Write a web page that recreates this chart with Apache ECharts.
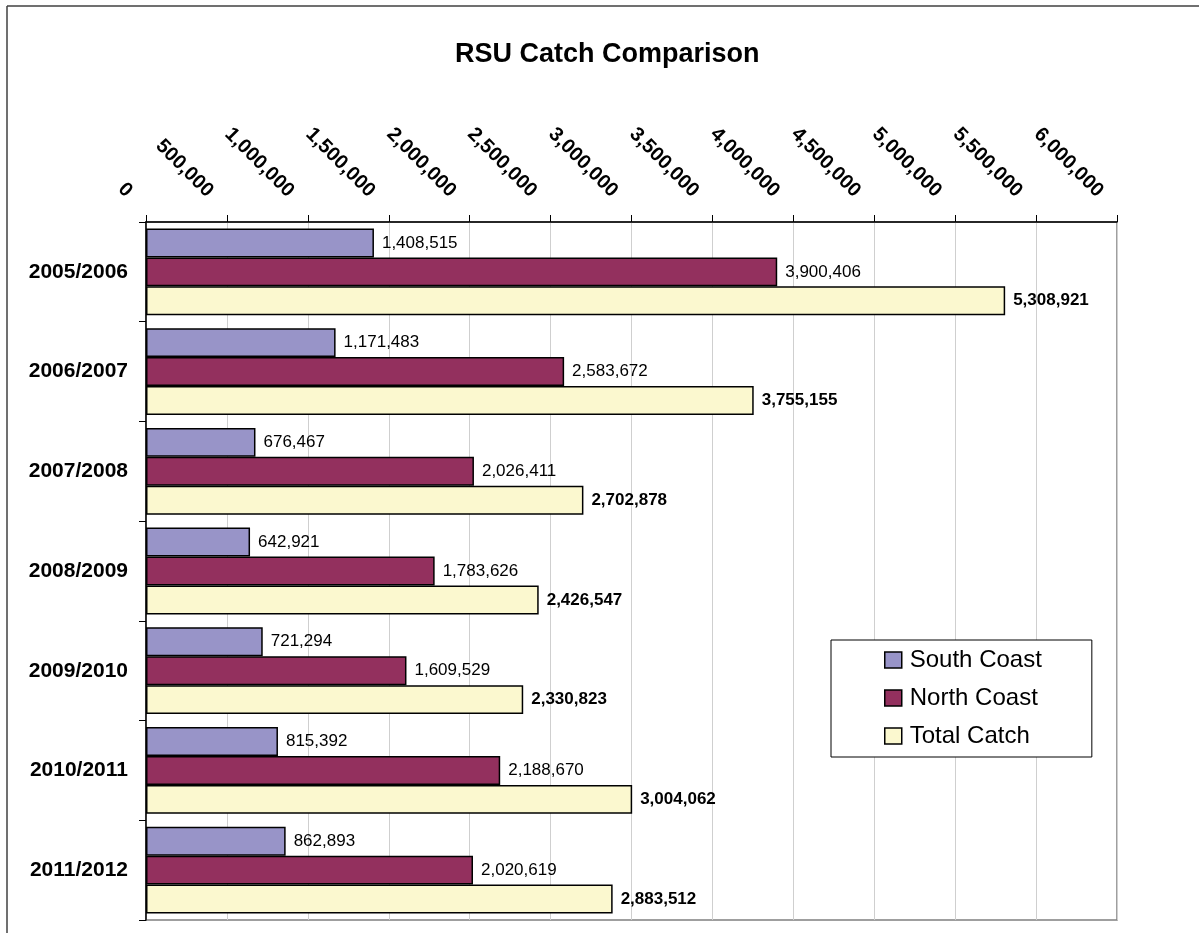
<!DOCTYPE html>
<html>
<head>
<meta charset="utf-8">
<script src="https://cdn.jsdelivr.net/npm/echarts@6/dist/echarts.min.js"></script>
<style>
html,body{margin:0;padding:0;background:#fff;}
#chart{width:1199px;height:933px;}
</style>
</head>
<body>
<div id="chart"></div>
<script>
const categories = ['2005/2006','2006/2007','2007/2008','2008/2009','2009/2010','2010/2011','2011/2012'];
const southCoast = [1408515, 1171483, 676467, 642921, 721294, 815392, 862893];
const northCoast = [3900406, 2583672, 2026411, 1783626, 1609529, 2188670, 2020619];
const totalCatch = [5308921, 3755155, 2702878, 2426547, 2330823, 3004062, 2883512];
const seriesNames = ['South Coast','North Coast','Total Catch'];

const FONT = 'Arial, "Liberation Sans", sans-serif';
const fmt = v => Number(v).toLocaleString('en-US');

const chart = echarts.init(document.getElementById('chart'), null, {renderer:'canvas'});

function barSeries(name, data, color, bold){
  return {
    name: name,
    type: 'bar',
    data: data,
    barGap: '0%',
    barCategoryGap: '13%',
    itemStyle: {color: color, borderColor: '#000', borderWidth: 1.5},
    label: {
      show: true, position: 'right', distance: 8,
      fontFamily: FONT, fontSize: 17, color: '#000',
      fontWeight: bold ? 'bold' : 'normal',
      formatter: p => fmt(p.value)
    },
    emphasis: {disabled: true},
    animation: false
  };
}

chart.setOption({
  animation: false,
  backgroundColor: '#fff',
  title: {
    text: 'RSU Catch Comparison',
    left: 455, top: 41, padding: 0,
    textStyle: {fontFamily: FONT, fontSize: 27, fontWeight: 'bold', color: '#000'}
  },
  legend: {
    data: seriesNames,
    orient: 'vertical',
    left: 831, top: 640,
    padding: [8, 50, 9, 53],
    icon: 'rect',
    itemWidth: 17, itemHeight: 16, itemGap: 14,
    borderColor: '#000', borderWidth: 1, backgroundColor: '#fff',
    textStyle: {fontFamily: FONT, fontSize: 24, color: '#000', padding: [0, 0, 0, 3]},
    itemStyle: {borderColor: '#000', borderWidth: 1.5},
    selectedMode: false
  },
  grid: {
    left: 146, right: 82, top: 222, bottom: 13,
    show: true, borderColor: '#808080', borderWidth: 1.5, backgroundColor: 'transparent'
  },
  xAxis: {
    type: 'value', position: 'top',
    min: 0, max: 6000000, interval: 500000,
    axisLine: {show: true, lineStyle: {color: '#000', width: 1.5}},
    axisTick: {show: true, length: 7, lineStyle: {color: '#000', width: 1}},
    splitLine: {show: true, lineStyle: {color: '#cfcfcf', width: 1}},
    axisLabel: {
      rotate: 45, margin: 11,
      padding: [0, 24, 0, 0],
      fontFamily: FONT, fontSize: 20, fontWeight: 'bold', color: '#000',
      formatter: v => fmt(v)
    }
  },
  yAxis: {
    type: 'category', data: categories, inverse: true,
    axisLine: {show: true, lineStyle: {color: '#000', width: 1.5}},
    axisTick: {show: true, length: 7, lineStyle: {color: '#000', width: 1}},
    axisLabel: {margin: 18, fontFamily: FONT, fontSize: 21, fontWeight: 'bold', color: '#000'}
  },
  graphic: [
    {type: 'line', shape: {x1: 7, y1: 6, x2: 7, y2: 933}, style: {stroke: '#404040', lineWidth: 1.5}, silent: true},
    {type: 'line', shape: {x1: 7, y1: 6, x2: 1199, y2: 6}, style: {stroke: '#404040', lineWidth: 1.5}, silent: true}
  ],
  series: [
    barSeries(seriesNames[0], southCoast, '#9894c8', false),
    barSeries(seriesNames[1], northCoast, '#93305e', false),
    barSeries(seriesNames[2], totalCatch, '#fbf8cf', true)
  ]
});
</script>
</body>
</html>
